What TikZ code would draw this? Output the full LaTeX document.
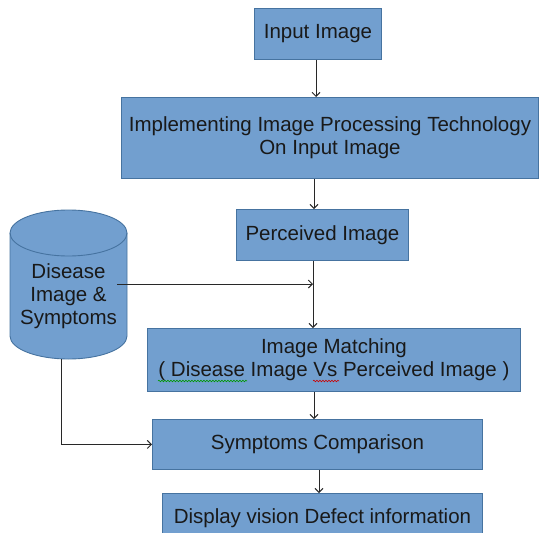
\documentclass[tikz,border=0pt]{standalone}
\usepackage{fontspec}
\setmainfont{Liberation Sans}
\usetikzlibrary{arrows.meta,decorations.pathmorphing}
\definecolor{boxfill}{RGB}{114,159,207}
\definecolor{boxline}{RGB}{70,115,160}
\definecolor{txt}{RGB}{25,25,25}
\definecolor{lnc}{RGB}{40,40,40}
\tikzset{
  box/.style={draw=boxline, fill=boxfill, line width=0.9pt, anchor=north west,
    inner sep=0pt, align=center, text=txt, font=\fontsize{20.5}{23}\selectfont},
  arr/.style={draw=lnc, line width=1pt, -{Straight Barb[length=4pt,width=8pt]}},
  squig/.style={line width=0.6pt, decorate, decoration={snake, amplitude=0.8pt, segment length=3pt}}
}
\begin{document}
\begin{tikzpicture}[x=1pt,y=1pt]
\useasboundingbox (0,0) rectangle (539,-533);
\clip (0,0) rectangle (539,-533);
% boxes
\node[box, minimum width=127, minimum height=51] (in) at (254,-8) {Input Image};
\node[box, minimum width=417, minimum height=81] (impl) at (121,-97)
  {Implementing Image Processing Technology\\On Input Image};
\node[box, minimum width=172, minimum height=51] (perc) at (236,-209) {Perceived Image};
\node[box, minimum width=373, minimum height=63] (match) at (147,-328)
  {Image Matching\\( Disease Image Vs Perceived Image )};
\node[box, minimum width=330, minimum height=50] (sym) at (152,-419) {Symptoms Comparison};
\node[box, minimum width=320, minimum height=50] (disp) at (162,-493) {Display vision Defect information};
% cylinder
\fill[boxfill] (10,-233) -- (10,-336) arc[start angle=180, end angle=360, x radius=58.5, y radius=23]
  -- (127,-233) arc[start angle=0, end angle=180, x radius=58.5, y radius=23] -- cycle;
\draw[boxline, line width=0.9pt] (10,-233) -- (10,-336) arc[start angle=180, end angle=360, x radius=58.5, y radius=23]
  -- (127,-233) arc[start angle=0, end angle=180, x radius=58.5, y radius=23];
\draw[boxline, line width=0.9pt] (10,-233) arc[start angle=180, end angle=360, x radius=58.5, y radius=23];
\node[inner sep=0pt, align=center, text=txt, font=\fontsize{20.5}{23}\selectfont] (db) at (68.5,-296)
  {Disease\\Image \&\\Symptoms};
\coordinate (dbout) at (117,-284);
\coordinate (dbbot) at (61,-359);
% connector x positions
\coordinate (x1) at (316,0);
\coordinate (x2) at (314,0);
\coordinate (x3) at (313,0);
\coordinate (x4) at (314,0);
\coordinate (x5) at (319,0);
% connectors
\draw[arr] (in.south -| x1) -- (impl.north -| x1);
\draw[arr] (impl.south -| x2) -- (perc.north -| x2);
\draw[arr] (perc.south -| x3) -- (match.north -| x3);
\draw[arr] (dbout) -- (dbout -| x3);
\draw[arr] (match.south -| x4) -- (sym.north -| x4);
\draw[arr] (sym.south -| x5) -- (disp.north -| x5);
\draw[arr] (dbbot) |- (sym.west);
% spell-check squiggles
\draw[squig, green!60!black] (158,-381) -- (247,-381);
\draw[squig, red!80!black] (313,-381) -- (339,-381);
\end{tikzpicture}
\end{document}
